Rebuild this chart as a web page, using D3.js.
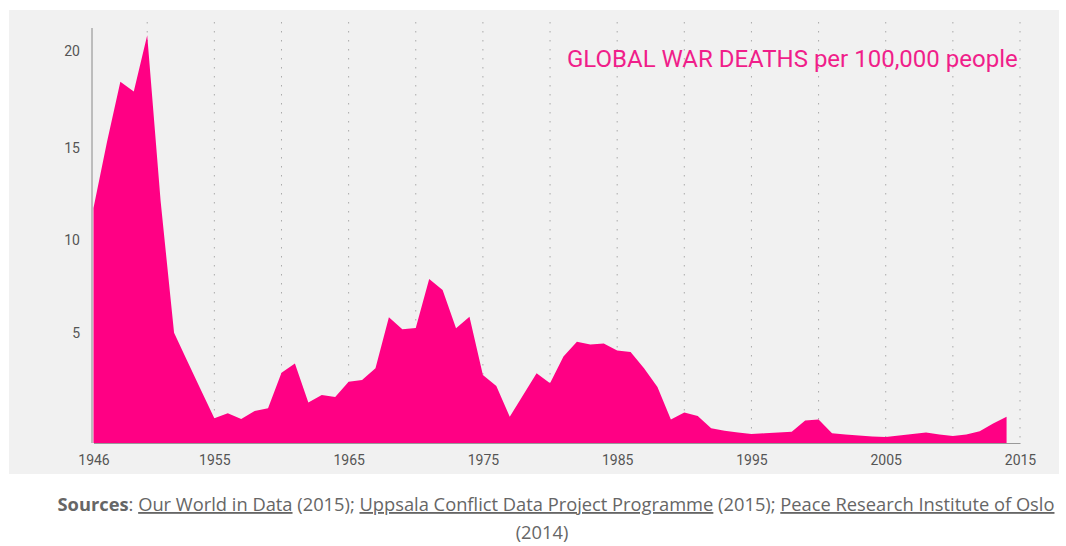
<!DOCTYPE html>
<html lang="en">
<head>
  <meta charset="UTF-8">
  <title>Global war deaths per 100,000 people</title>
  <script src="https://cdn.jsdelivr.net/npm/d3@7"></script>
  <style type="text/css">
    body { margin:0; background:#fff; }
    svg { display:block; }
    .tick text { font-family: Roboto, sans-serif; fill:#555; }
  </style>
</head>
<body>
<svg id="chart" width="1066" height="546"></svg>
<script>

  // war deaths per 100,000 people, one value per year from firstYear
  const firstYear = 1946;
  const deaths = [
    11.74, 15.3, 18.4, 17.9, 20.8, 12.1, 5.0, 3.7, 2.4,          // 1946-54
    1.12, 1.35, 1.09, 1.45, 1.57, 3.19, 3.6, 1.84, 2.18, 2.09,   // 1955-64
    2.78, 2.86, 3.39, 5.83, 5.18, 5.25, 7.9, 7.3, 5.24, 5.86,    // 1965-74
    3.08, 2.58, 1.19, 2.18, 3.16, 2.71, 3.92, 4.59, 4.46, 4.51,  // 1975-84
    4.19, 4.12, 3.39, 2.54, 1.07, 1.38, 1.22, 0.67, 0.56, 0.48,  // 1985-94
    0.41, 0.44, 0.48, 0.51, 1.02, 1.07, 0.44, 0.39, 0.34, 0.30,  // 1995-2004
    0.27, 0.34, 0.41, 0.48, 0.39, 0.32, 0.39, 0.53, 0.88, 1.19   // 2005-14
  ];
  const yearLabels = [1946, 1955, 1965, 1975, 1985, 1995, 2005, 2015];
  const gridYears = [1950, 1955, 1960, 1965, 1970, 1975, 1980, 1985, 1990, 1995, 2000, 2005, 2010, 2015];
  const yTicks = [5, 10, 15, 20];
  const title = "GLOBAL WAR DEATHS per 100,000 people";
  const sources = [
    {t: "Sources", bold: true}, {t: ": "},
    {t: "Our World in Data", link: true}, {t: " (2015); "},
    {t: "Uppsala Conflict Data Project Programme", link: true}, {t: " (2015); "},
    {t: "Peace Research Institute of Oslo", link: true}
  ];
  const sourcesLine2 = "(2014)";

  const pink = '#ff0084';
  const data = deaths.map((v, i) => ({year: firstYear + i, v: v}));

  const svg = d3.select('#chart');

  svg.append('rect').attr('x', 9).attr('y', 10).attr('width', 1050).attr('height', 464).attr('fill', '#f1f1f1');

  const x = d3.scaleLinear().domain([1946, 2015]).range([93.5, 1020]);
  // the original's y labels are not evenly spaced, so the scale follows them piece by piece
  const y = d3.scaleLinear().domain([0, 5, 10, 15, 20]).range([443, 332.7, 240, 148, 50.7]);

  // dotted grid
  svg.append('g').selectAll('line').data(gridYears).join('line')
    .attr('x1', d => x(d)).attr('x2', d => x(d))
    .attr('y1', 22).attr('y2', y(0))
    .attr('stroke', '#aaa').attr('stroke-width', 1).attr('stroke-dasharray', '1.5,7.5');

  const area = d3.area().x(d => x(d.year)).y0(y(0)).y1(d => y(d.v));
  svg.append('path').datum(data).attr('d', area).attr('fill', pink);

  // axes
  const xAxis = svg.append('g').attr('transform', `translate(0,${y(0)})`)
    .call(d3.axisBottom(x).tickValues(yearLabels).tickFormat(d3.format('d')).tickSize(0).tickPadding(12));
  xAxis.select('.domain').attr('stroke', '#999');
  xAxis.selectAll('.tick text').attr('font-size', 14);

  const yAxis = svg.append('g').attr('transform', 'translate(92,0)')
    .call(d3.axisLeft(y).tickValues(yTicks).tickSize(0).tickPadding(12));
  yAxis.select('.domain').remove();
  yAxis.selectAll('.tick text').attr('font-size', 14);
  yAxis.append('line').attr('y1', 28).attr('y2', y(0)).attr('stroke', '#888');

  function fitWidth(sel, target, base) {
    const w = sel.node().getComputedTextLength();
    sel.attr('font-size', base * target / w);
  }

  const t = svg.append('text').attr('x', 567).attr('y', 67)
    .attr('font-family', 'Roboto, sans-serif').attr('font-size', 22).attr('fill', '#f01e8a')
    .text(title);
  fitWidth(t, 451, 22);

  const src = svg.append('text').attr('x', 556).attr('y', 511).attr('text-anchor', 'middle')
    .attr('font-family', '"Liberation Sans Narrow", "Open Sans", sans-serif')
    .attr('font-size', 17).attr('fill', '#666');
  src.selectAll('tspan').data(sources).join('tspan')
    .attr('font-weight', d => d.bold ? 'bold' : null)
    .style('text-decoration', d => d.link ? 'underline' : null)
    .text(d => d.t);
  fitWidth(src, 998, 17);

  svg.append('text').attr('x', 542).attr('y', 539).attr('text-anchor', 'middle')
    .attr('font-family', '"Liberation Sans Narrow", "Open Sans", sans-serif')
    .attr('font-size', src.attr('font-size')).attr('fill', '#666')
    .text(sourcesLine2);

</script>
</body>
</html>
